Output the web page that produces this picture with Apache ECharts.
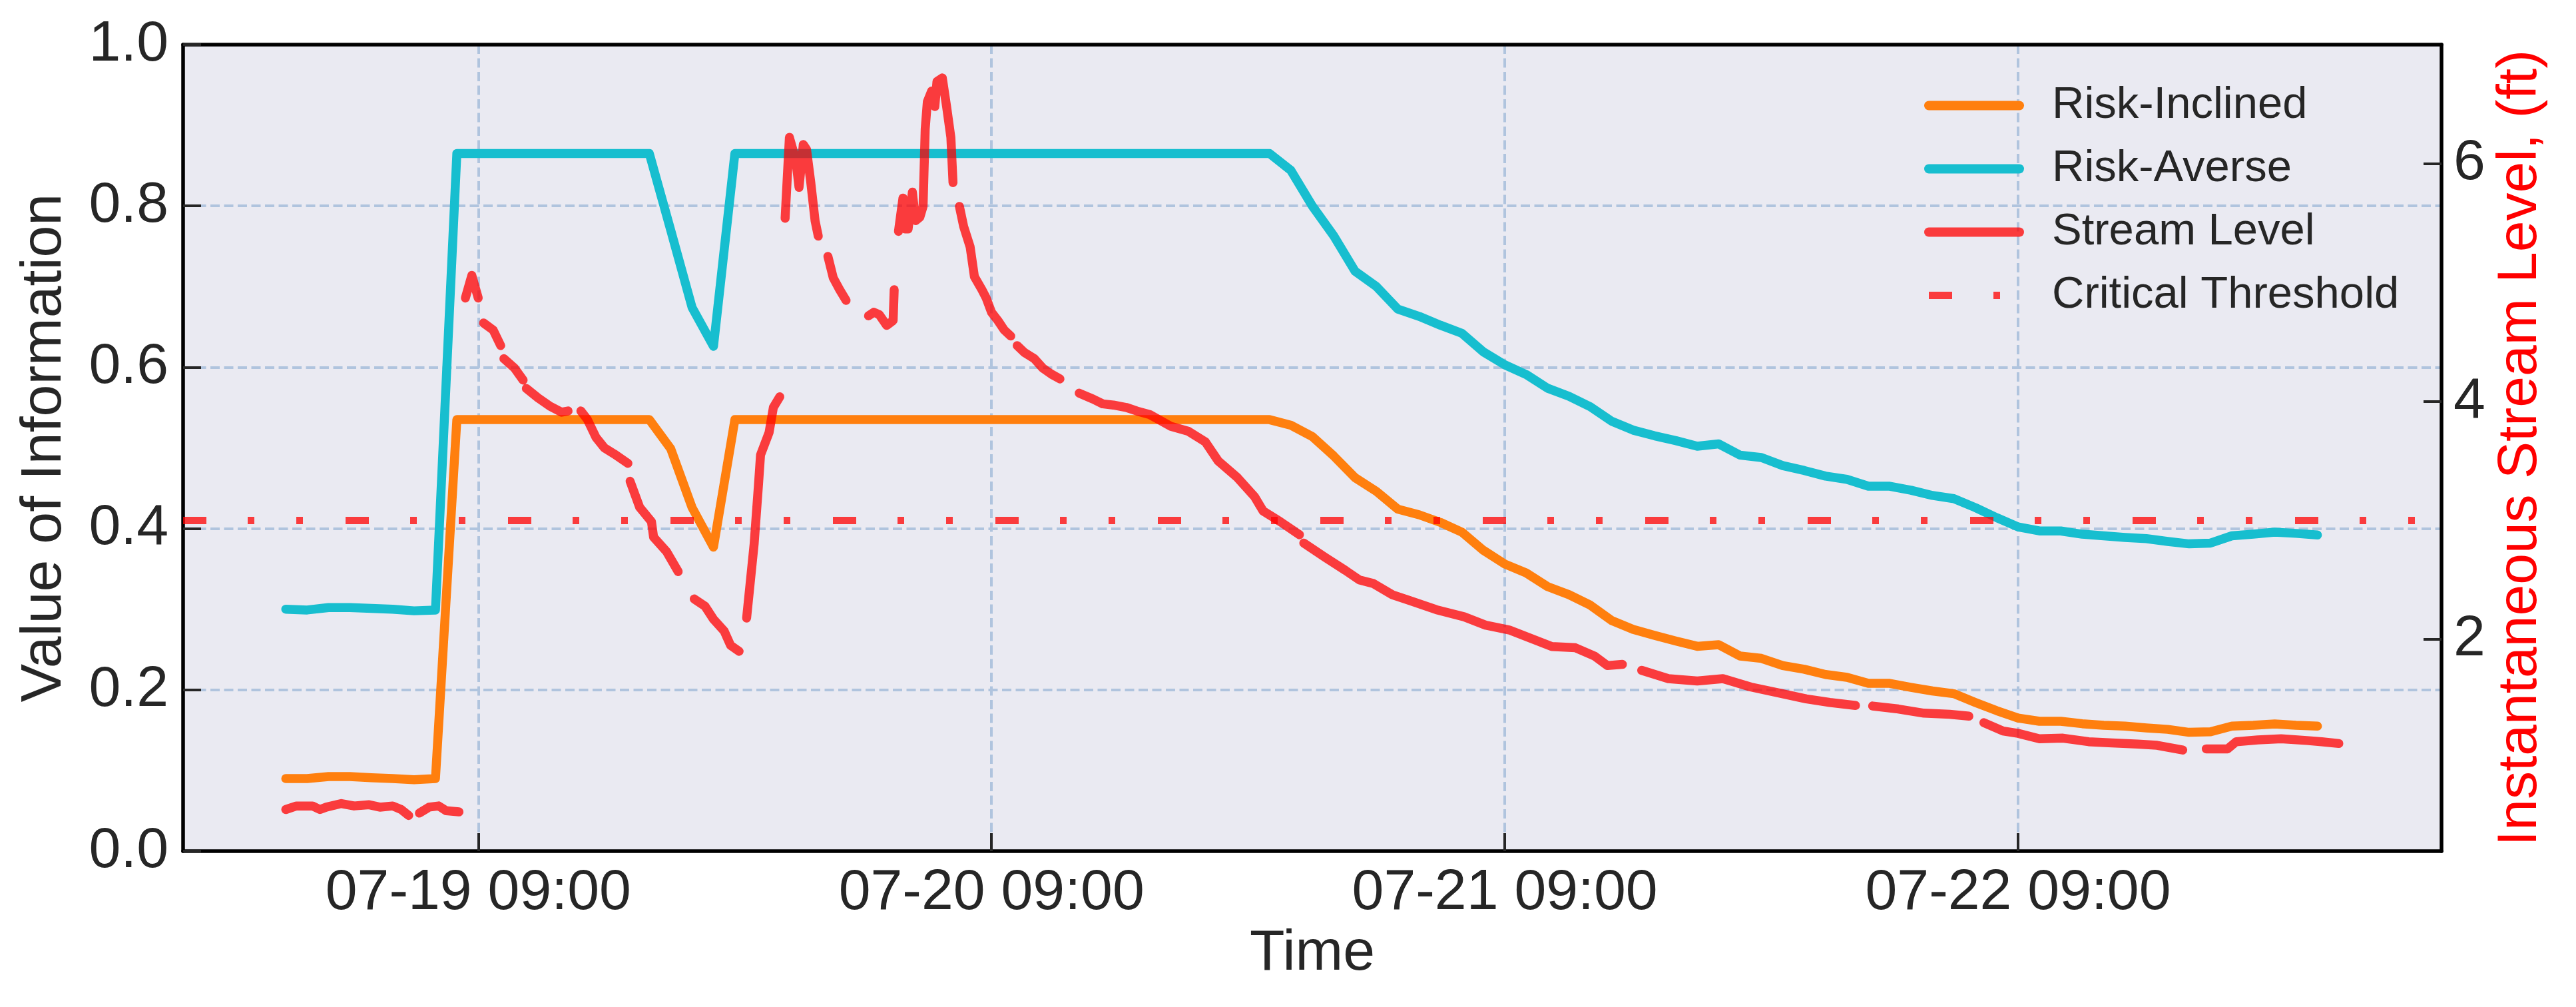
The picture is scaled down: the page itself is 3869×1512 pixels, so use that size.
<!DOCTYPE html>
<html>
<head>
<meta charset="utf-8">
<script src="https://cdn.jsdelivr.net/npm/echarts@6/dist/echarts.min.js"></script>
<style>
  html, body { margin: 0; padding: 0; background: #fff; }
  #chart { width: 3869px; height: 1512px; }
</style>
</head>
<body>
<div id="chart"></div>
<script>
// hours counted from 07-19 00:00
var riskHours = [];
for (var i = 0; i < 96; i++) riskHours.push(i);

var riskInclined = [
  0.090, 0.090, 0.0925, 0.0925, 0.091, 0.090, 0.0885, 0.090,
  0.535, 0.535, 0.535, 0.535, 0.535, 0.535, 0.535, 0.535, 0.535, 0.535,
  0.499, 0.426, 0.377,
  0.535, 0.535, 0.535, 0.535, 0.535, 0.535, 0.535, 0.535, 0.535, 0.535,
  0.535, 0.535, 0.535, 0.535, 0.535, 0.535, 0.535, 0.535, 0.535, 0.535,
  0.535, 0.535, 0.535, 0.535, 0.535, 0.535,
  0.528, 0.514, 0.490, 0.463, 0.446, 0.424, 0.417, 0.4075, 0.3955, 0.373,
  0.356, 0.345, 0.328, 0.318, 0.305, 0.286, 0.275, 0.2675, 0.2605, 0.254,
  0.256, 0.242, 0.239, 0.230, 0.2255, 0.219, 0.2155, 0.208, 0.208, 0.203,
  0.1986, 0.1952, 0.1844, 0.1742, 0.165, 0.161, 0.161, 0.158, 0.156, 0.155,
  0.1528, 0.151, 0.1473, 0.148, 0.155, 0.156, 0.1577, 0.156, 0.155
];

var riskAverse = [
  0.300, 0.299, 0.302, 0.302, 0.301, 0.300, 0.298, 0.299,
  0.865, 0.865, 0.865, 0.865, 0.865, 0.865, 0.865, 0.865, 0.865, 0.865,
  0.770, 0.674, 0.626,
  0.865, 0.865, 0.865, 0.865, 0.865, 0.865, 0.865, 0.865, 0.865, 0.865,
  0.865, 0.865, 0.865, 0.865, 0.865, 0.865, 0.865, 0.865, 0.865, 0.865,
  0.865, 0.865, 0.865, 0.865, 0.865, 0.865,
  0.844, 0.800, 0.763, 0.719, 0.700, 0.672, 0.663, 0.652, 0.642, 0.619,
  0.603, 0.591, 0.574, 0.564, 0.551, 0.533, 0.522, 0.515, 0.509, 0.502,
  0.505, 0.491, 0.488, 0.478, 0.472, 0.465, 0.461, 0.4525, 0.4525, 0.4475,
  0.441, 0.437, 0.426, 0.4135, 0.402, 0.397, 0.397, 0.393, 0.391, 0.389,
  0.3875, 0.384, 0.381, 0.382, 0.391, 0.393, 0.3955, 0.394, 0.392
];

// stream level readings; null marks a gap in the record
var streamHours = [
  0, 0.5, 1.25, 1.6, 1.9, 2.6, 3.2, 3.9, 4.4, 5.0, 5.4, 5.75, null,
  6.25, 6.7, 7.15, 7.5, 8.1, null,
  8.4, 8.7, 9.0, null,
  9.25, 9.7, 10.05, null,
  10.2, 10.7, 11.1, null,
  11.25, 11.8, 12.36, 12.9, 13.2, null,
  13.8, 14.1, 14.5, 14.9, 15.35, 16.0, null,
  16.1, 16.55, 17.1, 17.2, 17.8, 18.35, null,
  19.1, 19.6, 20.0, 20.5, 20.8, 21.2, null,
  21.55, 21.9, 22.1, 22.2, 22.6, 22.8, 23.1, null,
  23.35, 23.55, 23.85, 24.0, 24.2, 24.35, 24.55, 24.75, 24.9, null,
  25.35, 25.6, 25.9, 26.2, null,
  27.25, 27.5, 27.75, 28.1, 28.4, 28.45, null,
  28.65, 28.86, 28.95, 29.1, 29.3, 29.45, 29.65, 29.8, 29.9, 30.0, 30.2, 30.35, 30.45, 30.7, 30.9, 31.1, 31.2, null,
  31.5, 31.7, 32.0, 32.2, 32.55, 32.75, 33.0, 33.3, 33.6, 33.9, null,
  34.2, 34.55, 35.0, 35.4, 35.8, 36.2, null,
  37.1, 37.75, 38.2, 38.7, 39.3, 39.8, 40.4, 40.8, 41.4, 42.2, 43.0, 43.6, 44.5, 45.3, 45.7, 46.5, 47.4, null,
  47.6, 48.6, 49.55, 50.2, 50.85, 51.75, 52.5, 53.8, 55.1, 56.1, 57.2, 58.2, 59.2, 60.3, 61.2, 61.8, 62.5, null,
  63.4, 64.65, 66.0, 67.2, 68.5, 69.8, 71.1, 72.2, 73.4, null,
  74.2, 75.4, 76.6, 77.8, 78.7, null,
  79.4, 80.3, 81.0, 82.0, 83.1, 84.3, 85.4, 86.6, 87.5, 88.7, null,
  89.8, 90.8, 91.2, 92.2, 93.3, 94.5, 95.2, 96.0
];
var streamLevels = [
  0.57, 0.60, 0.60, 0.57, 0.59, 0.62, 0.60, 0.61, 0.59, 0.60, 0.57, 0.52, null,
  0.54, 0.59, 0.60, 0.56, 0.55, null,
  4.87, 5.06, 4.87, null,
  4.66, 4.60, 4.47, null,
  4.36, 4.28, 4.18, null,
  4.11, 4.03, 3.96, 3.91, 3.92, null,
  3.92, 3.85, 3.70, 3.61, 3.56, 3.48, null,
  3.33, 3.11, 2.99, 2.86, 2.74, 2.57, null,
  2.34, 2.28, 2.17, 2.07, 1.95, 1.90, null,
  2.18, 2.80, 3.29, 3.55, 3.74, 3.95, 4.04, null,
  5.54, 6.22, 6.03, 5.80, 6.16, 6.12, 5.84, 5.52, 5.39, null,
  5.22, 5.04, 4.94, 4.85, null,
  4.72, 4.75, 4.73, 4.64, 4.68, 4.94, null,
  5.43, 5.71, 5.45, 5.45, 5.76, 5.52, 5.55, 5.64, 6.29, 6.52, 6.61, 6.48, 6.69, 6.72, 6.48, 6.22, 5.84, null,
  5.64, 5.47, 5.30, 5.05, 4.94, 4.87, 4.75, 4.68, 4.60, 4.55, null,
  4.47, 4.41, 4.36, 4.28, 4.23, 4.19, null,
  4.07, 4.02, 3.98, 3.97, 3.95, 3.92, 3.89, 3.85, 3.79, 3.75, 3.66, 3.50, 3.36, 3.20, 3.08, 2.99, 2.88, null,
  2.81, 2.69, 2.58, 2.50, 2.47, 2.375, 2.33, 2.25, 2.19, 2.12, 2.08, 2.01, 1.94, 1.93, 1.86, 1.78, 1.79, null,
  1.74, 1.67, 1.65, 1.67, 1.60, 1.55, 1.50, 1.47, 1.445, null,
  1.44, 1.415, 1.38, 1.37, 1.355, null,
  1.30, 1.23, 1.21, 1.165, 1.17, 1.14, 1.13, 1.12, 1.11, 1.07, null,
  1.08, 1.08, 1.14, 1.155, 1.165, 1.15, 1.14, 1.125
];

var thresholdLevel = 3.0;
var timeTicks = [9, 33, 57, 81];         // 07-19 09:00 ... 07-22 09:00
var levelTicks = [2, 4, 6];

var xMin = -4.8, xMax = 100.8;
var levelMin = 0.22, levelMax = 7.0;

var FONT = '"Liberation Sans", Arial, sans-serif';
var INK = '#262626';
var GRID = '#b0c4de';
var FRAME = { show: true, onZero: false, lineStyle: { color: '#000000', width: 5.5 } };
var TICK = { color: INK, width: 4 };
var GRIDLINE = { color: GRID, width: 4, type: [14, 6.5] };

function pairs(xs, ys) {
  var out = [];
  for (var i = 0; i < xs.length; i++) {
    out.push(ys[i] === null ? [xs[i - 1], '-'] : [xs[i], ys[i]]);
  }
  return out;
}

function pad(n) { return (n < 10 ? '0' : '') + n; }
function hourLabel(h) {
  var day = 19 + Math.floor(h / 24);
  var hh = Math.round(h - Math.floor(h / 24) * 24);
  return '07-' + pad(day) + ' ' + pad(hh) + ':00';
}

var chart = echarts.init(document.getElementById('chart'), null, { renderer: 'canvas' });

chart.setOption({
  animation: false,
  backgroundColor: '#ffffff',
  textStyle: { fontFamily: FONT, color: INK },
  grid: {
    left: 275, right: 202, top: 67, bottom: 234,
    show: true,
    backgroundColor: '#eaeaf2',
    borderWidth: 0
  },
  legend: {
    orient: 'vertical',
    left: 2885,
    top: 120,
    itemWidth: 136,
    itemHeight: 2,
    itemGap: 28,
    itemStyle: { borderWidth: 0, opacity: 0 },
    lineStyle: { width: 14, cap: 'round' },
    textStyle: { fontSize: 67, color: INK, fontFamily: FONT, padding: [0, 0, 0, 44] },
    data: [
      { name: 'Risk-Inclined' },
      { name: 'Risk-Averse' },
      { name: 'Stream Level' },
      { name: 'Critical Threshold', lineStyle: { width: 11, cap: 'butt' } }
    ]
  },
  xAxis: [
    {
      type: 'value',
      min: xMin,
      max: xMax,
      name: 'Time',
      nameLocation: 'middle',
      nameGap: 103,
      nameTextStyle: { fontSize: 86, color: INK, fontFamily: FONT },
      axisLine: FRAME,
      axisTick: {
        show: true, inside: true, length: 27,
        customValues: timeTicks,
        lineStyle: TICK
      },
      axisLabel: {
        customValues: timeTicks,
        fontSize: 86, color: INK, margin: 20,
        formatter: function (v) { return hourLabel(v); }
      },
      splitLine: { show: true, lineStyle: GRIDLINE }
    },
    {
      type: 'value',
      position: 'top',
      min: xMin,
      max: xMax,
      axisLine: FRAME,
      axisTick: { show: false },
      axisLabel: { show: false },
      splitLine: { show: false }
    }
  ],
  yAxis: [
    {
      type: 'value',
      min: 0, max: 1, interval: 0.2,
      name: 'Value of Information',
      nameLocation: 'middle',
      nameRotate: 90,
      nameGap: 165,
      nameTextStyle: { fontSize: 86, color: INK, fontFamily: FONT },
      axisLine: FRAME,
      axisTick: { show: true, inside: true, length: 27, lineStyle: TICK },
      axisLabel: {
        fontSize: 86, color: INK, margin: 22,
        formatter: function (v) { return v.toFixed(1); }
      },
      splitLine: { show: true, lineStyle: GRIDLINE }
    },
    {
      type: 'value',
      position: 'right',
      min: levelMin, max: levelMax,
      name: 'Instantaneous Stream Level, (ft)',
      nameLocation: 'middle',
      nameRotate: 90,
      nameGap: 72,
      nameTextStyle: { fontSize: 84, color: '#ff0000', fontFamily: FONT },
      axisLine: FRAME,
      axisTick: {
        show: true, inside: true, length: 27,
        customValues: levelTicks,
        lineStyle: TICK
      },
      axisLabel: {
        customValues: levelTicks,
        fontSize: 86, color: INK, margin: 18,
        formatter: function (v) { return String(v); }
      },
      splitLine: { show: false }
    }
  ],
  series: [
    {
      name: 'Risk-Inclined',
      type: 'line',
      yAxisIndex: 0,
      showSymbol: false,
      symbol: 'none',
      color: '#ff7f0e',
      lineStyle: { width: 13.5, color: '#ff7f0e', cap: 'round', join: 'round' },
      data: pairs(riskHours, riskInclined),
      z: 2
    },
    {
      name: 'Risk-Averse',
      type: 'line',
      yAxisIndex: 0,
      showSymbol: false,
      symbol: 'none',
      color: '#17becf',
      lineStyle: { width: 13.5, color: '#17becf', cap: 'round', join: 'round' },
      data: pairs(riskHours, riskAverse),
      z: 3
    },
    {
      name: 'Stream Level',
      type: 'line',
      yAxisIndex: 1,
      showSymbol: false,
      symbol: 'none',
      connectNulls: false,
      color: 'rgba(255,0,0,0.75)',
      lineStyle: { width: 13.5, color: 'rgba(255,0,0,0.75)', cap: 'round', join: 'round' },
      data: pairs(streamHours, streamLevels),
      z: 4
    },
    {
      name: 'Critical Threshold',
      type: 'line',
      yAxisIndex: 1,
      showSymbol: false,
      symbol: 'none',
      color: 'rgba(255,0,0,0.75)',
      lineStyle: {
        width: 11, color: 'rgba(255,0,0,0.75)', cap: 'butt',
        type: [35, 62, 10, 63, 10, 64]
      },
      data: [[xMin, thresholdLevel], [xMax, thresholdLevel]],
      z: 5
    }
  ]
});
</script>
</body>
</html>
